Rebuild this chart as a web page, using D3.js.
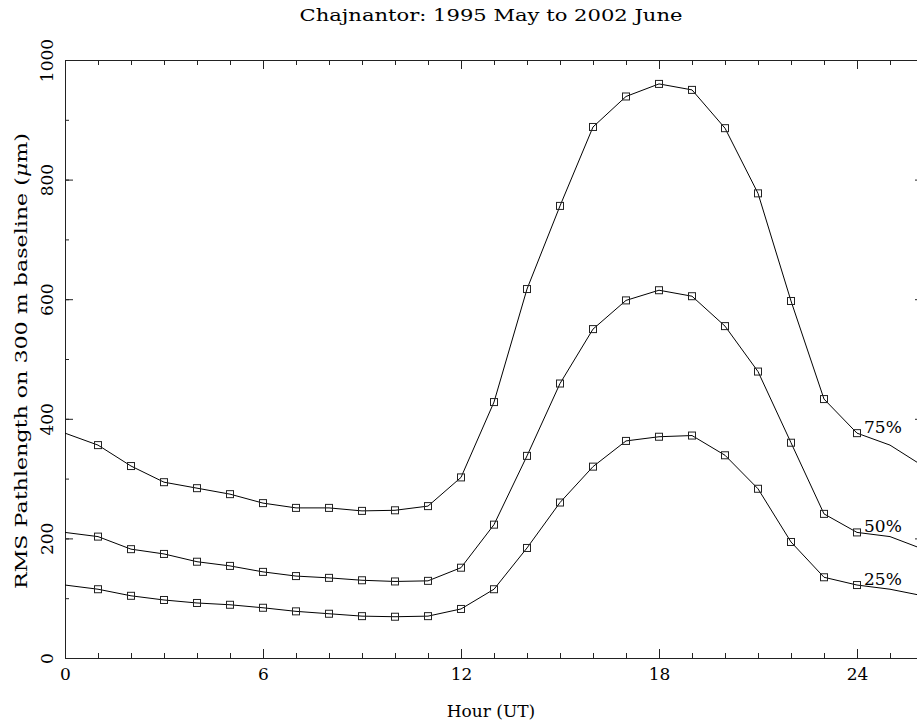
<!DOCTYPE html>
<html>
<head>
<meta charset="utf-8">
<script src="https://cdn.jsdelivr.net/npm/d3@7"></script>
<style>
  body { margin: 0; background: #fff; }
  svg { display: block; }
  text { font-family: 'DejaVu Serif', 'Liberation Serif', serif; fill: #000; }
</style>
</head>
<body>
<div id="chart"></div>
<script>
// hourly values (UT hours 1..24), the curve wraps round the day
const hours = [1, 2, 3, 4, 5, 6, 7, 8, 9, 10, 11, 12, 13, 14, 15, 16, 17, 18, 19, 20, 21, 22, 23, 24]
const p75 = [356, 321, 294, 284, 274, 259, 251, 251, 246, 247, 254, 302, 428, 617, 756, 888, 939, 960, 950, 886, 777, 597, 433, 376]
const p50 = [203, 182, 174, 161, 154, 144, 137, 134, 130, 128, 129, 151, 223, 338, 459, 550, 598, 615, 605, 555, 479, 360, 241, 210]
const p25 = [115, 104, 97, 92, 89, 84, 78, 74, 70, 69, 70, 82, 115, 184, 260, 320, 363, 370, 372, 339, 283, 194, 135, 122]
const seriesNames = ['75%', '50%', '25%']
const xMajor = [0, 6, 12, 18, 24]
const yMajor = [0, 200, 400, 600, 800, 1000]

const width = 917
const height = 725
const margins = { left: 65, top: 60, right: -6, bottom: 67 }

const svg = d3.select('#chart').append('svg')
  .attr('width', width)
  .attr('height', height)

const x = d3.scaleLinear().domain([0, 26]).range([margins.left, width - margins.right])
const y = d3.scaleLinear().domain([0, 1000]).range([height - margins.bottom, margins.top])

const xMinor = d3.range(0, 27)
const yMinor = d3.range(0, 1001, 100)

// axes, ticks point inward on all four sides
function styleAxis(g) {
  g.selectAll('path, line').attr('stroke', '#222').attr('stroke-width', 1)
  g.selectAll('text').remove()
}

svg.append('g')
  .attr('transform', `translate(0, ${y(0)})`)
  .call(d3.axisBottom(x).tickValues(xMinor).tickSize(-5).tickSizeOuter(0))
  .call(styleAxis)
const xAxis = svg.append('g')
  .attr('transform', `translate(0, ${y(0)})`)
  .call(d3.axisBottom(x).tickValues(xMajor).tickSize(-9).tickSizeOuter(0).tickPadding(10).tickFormat(d3.format('d')))
xAxis.selectAll('path, line').attr('stroke', '#222')
xAxis.selectAll('text')
  .attr('font-family', "'DejaVu Serif', serif")
  .attr('font-size', 17)

svg.append('g')
  .attr('transform', `translate(0, ${y(1000)})`)
  .call(d3.axisTop(x).tickValues(xMinor).tickSize(-5).tickSizeOuter(0))
  .call(styleAxis)
svg.append('g')
  .attr('transform', `translate(0, ${y(1000)})`)
  .call(d3.axisTop(x).tickValues(xMajor).tickSize(-9).tickSizeOuter(0))
  .call(styleAxis)

svg.append('g')
  .attr('transform', `translate(${x(0)}, 0)`)
  .call(d3.axisLeft(y).tickValues(yMinor).tickSize(-4).tickSizeOuter(0))
  .call(styleAxis)
const yAxis = svg.append('g')
  .attr('transform', `translate(${x(0)}, 0)`)
  .call(d3.axisLeft(y).tickValues(yMajor).tickSize(-8).tickSizeOuter(0).tickFormat(d3.format('d')))
yAxis.selectAll('path, line').attr('stroke', '#222')
yAxis.selectAll('text')
  .attr('font-family', "'DejaVu Serif', serif")
  .attr('font-size', 17)
  .attr('text-anchor', 'middle')
  .attr('transform', 'rotate(-90)')
  .attr('x', 0)
  .attr('y', -12)
  .attr('dy', 0)

svg.append('g')
  .attr('transform', `translate(${x(26)}, 0)`)
  .call(d3.axisRight(y).tickValues(yMinor).tickSize(-4).tickSizeOuter(0))
  .call(styleAxis)
svg.append('g')
  .attr('transform', `translate(${x(26)}, 0)`)
  .call(d3.axisRight(y).tickValues(yMajor).tickSize(-8).tickSizeOuter(0))
  .call(styleAxis)

// curves
svg.append('clipPath').attr('id', 'plot-clip')
  .append('rect')
  .attr('x', x(0)).attr('y', y(1000))
  .attr('width', x(26) - x(0)).attr('height', y(0) - y(1000))

const series = [p75, p50, p25].map((values, i) => ({ name: seriesNames[i], values }))

// value at any whole hour, wrapping round the 24 h day
const valueAt = (values, h) => values[(((h - 1) % 24) + 24) % 24]

const line = d3.line()
  .x(d => x(d[0]))
  .y(d => y(d[1]))

const plot = svg.append('g').attr('clip-path', 'url(#plot-clip)')

plot.selectAll('path.curve')
  .data(series)
  .enter()
  .append('path')
  .attr('class', 'curve')
  .attr('fill', 'none')
  .attr('stroke', '#000')
  .attr('stroke-width', 1)
  .attr('d', s => line(d3.range(0, 27).map(h => [h, valueAt(s.values, h)])))

const markSize = 7
series.forEach(s => {
  plot.append('g')
    .selectAll('rect')
    .data(hours)
    .enter()
    .append('rect')
    .attr('x', h => x(h) - markSize / 2)
    .attr('y', h => y(valueAt(s.values, h)) - markSize / 2)
    .attr('width', markSize)
    .attr('height', markSize)
    .attr('fill', 'none')
    .attr('stroke', '#222')
    .attr('stroke-width', 1)
})

// series labels next to the last marked point
svg.selectAll('text.label')
  .data(series)
  .enter()
  .append('text')
  .attr('class', 'label')
  .attr('x', x(24) + 7)
  .attr('y', s => y(valueAt(s.values, 24)))
  .attr('font-size', 17)
  .text(s => s.name)

// titles
svg.append('text')
  .attr('x', (x(0) + width) / 2)
  .attr('y', 21)
  .attr('text-anchor', 'middle')
  .attr('font-size', 17)
  .attr('textLength', 383)
  .attr('lengthAdjust', 'spacingAndGlyphs')
  .text('Chajnantor: 1995 May to 2002 June')

svg.append('text')
  .attr('x', (x(0) + width) / 2)
  .attr('y', 717)
  .attr('text-anchor', 'middle')
  .attr('font-size', 17)
  .text('Hour (UT)')

const yTitle = svg.append('text')
  .attr('transform', `translate(27, ${(y(0) + y(1000)) / 2 + 2}) rotate(-90)`)
  .attr('text-anchor', 'middle')
  .attr('font-size', 17)
  .attr('textLength', 456)
  .attr('lengthAdjust', 'spacingAndGlyphs')
yTitle.append('tspan').text('RMS Pathlength on 300 m baseline (')
yTitle.append('tspan').attr('font-style', 'italic').text('μ')
yTitle.append('tspan').text('m)')
</script>
</body>
</html>
